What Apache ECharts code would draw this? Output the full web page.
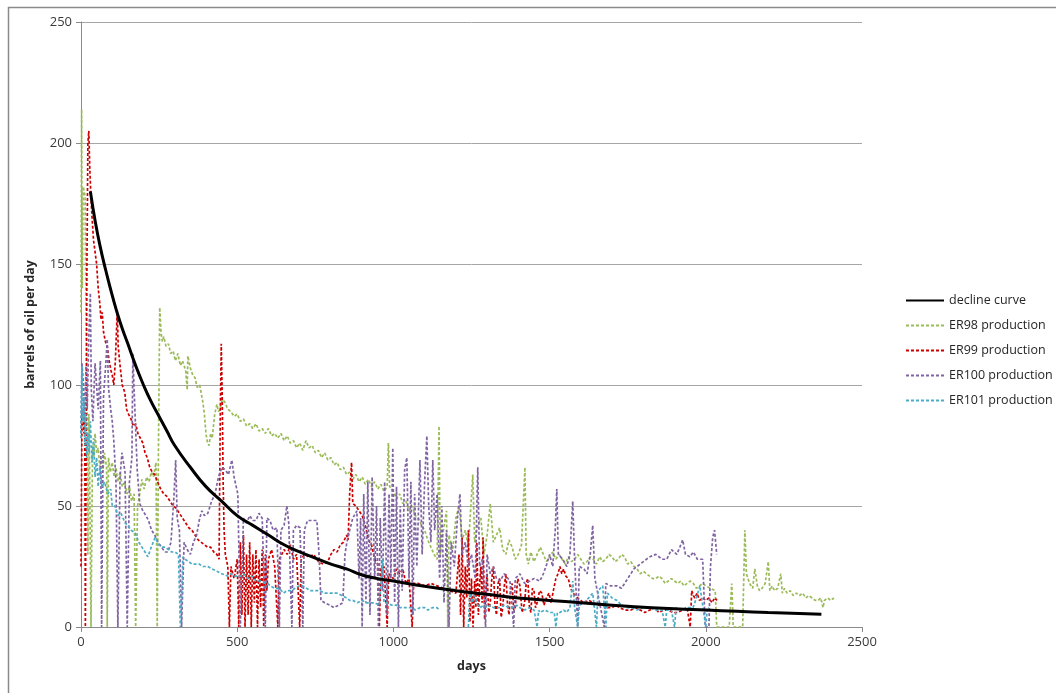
<!DOCTYPE html>
<html>
<head>
<meta charset="utf-8">
<script src="https://cdn.jsdelivr.net/npm/echarts@6/dist/echarts.min.js"></script>
<style>
html,body{margin:0;padding:0;background:#fff;}
#chart{width:1056px;height:693px;}
</style>
</head>
<body>
<div id="chart"></div>
<script>
// ---- data (days, barrels of oil per day) ----
const xTicks = [0, 500, 1000, 1500, 2000, 2500];
const yTicks = [0, 50, 100, 150, 200, 250];
const seriesNames = ['decline curve', 'ER98 production', 'ER99 production', 'ER100 production', 'ER101 production'];

const declineCurve = [[30,180],[45,168],[60,158],[80,147],[100,137],[125,126],[150,117],[175,108],[200,100],[225,93],[250,87],[275,81],[300,75],[350,66],[400,58],[450,52],[500,46],[550,42],[600,38],[650,34],[700,31],[750,28.5],[800,26],[850,24],[900,21.5],[950,20],[1000,19],[1100,16.8],[1200,15],[1300,13.5],[1400,12],[1500,11],[1600,10],[1700,9],[1800,8.2],[1900,7.5],[2000,7],[2100,6.5],[2200,6],[2300,5.6],[2370,5.3]];

const er98 = [[0,130],[2,214],[4,140],[7,182],[13,178],[16,130],[19,95],[22,30],[25,88],[28,60],[32,0],[35,0],[37,75],[41,70],[45,80],[50,72],[55,74],[60,66],[65,70],[70,64],[75,72],[82,66],[84,0],[86,0],[88,70],[94,64],[100,68],[106,62],[112,66],[118,60],[125,64],[132,58],[140,60],[147,55],[155,58],[162,52],[170,55],[175,0],[178,0],[181,50],[188,55],[195,61],[202,57],[210,62],[218,60],[225,64],[232,62],[240,68],[244,0],[246,0],[248,75],[252,132],[256,122],[260,118],[265,120],[272,116],[280,117],[287,113],[295,114],[302,110],[310,113],[318,108],[325,110],[335,106],[340,98],[342,112],[350,107],[358,104],[365,103],[372,99],[380,100],[390,93],[395,88],[400,80],[405,76],[410,75],[415,80],[420,78],[428,88],[435,92],[440,89],[445,90],[452,94],[460,93],[470,90],[480,89],[490,87],[500,88],[510,85],[520,86],[530,83],[540,84],[550,82],[560,84],[570,81],[580,82],[590,80],[600,82],[610,79],[620,80],[630,78],[640,80],[650,77],[660,79],[670,76],[680,77],[690,74],[700,76],[710,73],[720,77],[730,74],[740,75],[750,72],[760,73],[770,70],[780,72],[790,69],[800,70],[810,67],[820,68],[830,65],[840,66],[850,63],[860,64],[870,61],[880,63],[890,60],[900,62],[910,59],[920,61],[930,58],[940,60],[950,57],[960,59],[970,56],[980,58],[984,76],[988,58],[1000,56],[1010,53],[1020,55],[1030,51],[1040,52],[1050,48],[1060,50],[1070,46],[1080,45],[1090,42],[1100,40],[1110,36],[1120,33],[1130,30],[1140,28],[1146,83],[1150,30],[1160,40],[1170,48],[1174,0],[1178,38],[1190,32],[1200,45],[1210,50],[1220,36],[1230,40],[1240,33],[1254,63],[1260,35],[1270,42],[1280,45],[1290,30],[1300,38],[1310,51],[1320,35],[1330,38],[1340,41],[1350,32],[1360,30],[1370,36],[1380,33],[1390,28],[1400,30],[1410,34],[1421,66],[1425,30],[1432,26],[1440,31],[1450,27],[1460,30],[1470,33],[1480,30],[1490,27],[1500,29],[1510,31],[1520,28],[1530,30],[1540,28],[1550,26],[1560,29],[1570,27],[1580,28],[1590,30],[1600,28],[1610,26],[1620,27],[1630,29],[1640,28],[1650,26],[1660,29],[1670,27],[1680,28],[1690,30],[1700,29],[1710,27],[1720,28],[1730,30],[1740,29],[1750,26],[1760,27],[1770,25],[1780,24],[1790,22],[1800,23],[1810,22],[1820,21],[1830,20],[1840,20],[1850,21],[1860,20],[1870,18],[1880,19],[1890,20],[1900,19],[1910,18],[1920,19],[1930,17],[1940,18],[1950,19],[1960,18],[1970,16],[1980,17],[1990,18],[2000,17],[2015,16],[2030,15],[2035,0],[2075,0],[2083,18],[2088,0],[2118,0],[2125,40],[2130,22],[2140,18],[2150,16],[2157,24],[2165,17],[2172,15],[2180,16],[2190,18],[2200,27],[2205,15],[2212,17],[2220,15],[2230,16],[2240,22],[2245,14],[2252,16],[2260,14],[2270,15],[2280,13],[2290,14],[2300,13],[2310,14],[2320,12],[2330,13],[2340,12],[2350,11],[2360,11],[2368,12],[2375,8],[2380,11],[2390,12],[2400,11],[2410,12]];

const er99 = [[0,25],[3,85],[6,90],[9,80],[12,88],[14,0],[17,0],[19,150],[22,200],[25,205],[28,190],[31,180],[35,170],[40,160],[45,155],[50,150],[55,140],[60,134],[64,127],[68,130],[72,122],[78,118],[84,116],[90,110],[96,106],[100,104],[105,100],[110,110],[116,131],[119,116],[125,108],[132,100],[140,97],[146,90],[152,88],[160,86],[168,83],[175,84],[182,80],[190,78],[198,76],[205,72],[212,70],[220,66],[228,64],[236,63],[245,60],[255,57],[265,55],[275,54],[285,52],[295,50],[305,49],[315,47],[325,45],[335,43],[345,41],[355,40],[365,38],[375,36],[385,35],[395,34],[405,33],[415,33],[425,31],[435,30],[442,28],[446,90],[449,117],[452,95],[455,60],[458,40],[462,30],[470,25],[475,0],[480,25],[490,20],[500,28],[505,0],[510,35],[515,5],[520,38],[525,0],[530,30],[535,5],[540,35],[545,0],[550,30],[555,10],[560,32],[565,0],[570,28],[575,8],[580,32],[585,0],[590,30],[595,15],[600,28],[610,32],[620,25],[630,0],[635,28],[650,32],[660,30],[670,34],[680,28],[690,30],[700,0],[705,28],[715,30],[730,29],[745,30],[760,27],[775,26],[790,27],[800,30],[810,32],[820,31],[830,34],[840,35],[850,38],[855,36],[860,55],[866,68],[870,51],[880,50],[890,48],[900,46],[910,42],[920,36],[930,34],[940,28],[950,26],[955,0],[960,24],[970,25],[980,0],[985,22],[1000,20],[1010,24],[1020,22],[1030,24],[1040,18],[1050,20],[1060,0],[1065,18],[1080,18],[1100,17],[1120,18],[1140,17],[1160,16],[1180,15],[1200,14],[1205,22],[1210,30],[1215,5],[1220,37],[1225,0],[1230,25],[1235,12],[1240,40],[1245,2],[1250,20],[1255,0],[1260,19],[1264,8],[1267,35],[1272,5],[1276,18],[1280,25],[1284,10],[1287,37],[1292,3],[1296,15],[1300,22],[1305,6],[1310,10],[1315,20],[1320,25],[1325,9],[1330,5],[1335,18],[1340,20],[1345,4],[1350,8],[1355,17],[1360,22],[1365,10],[1370,5],[1375,16],[1380,18],[1385,7],[1390,8],[1398,20],[1405,17],[1412,6],[1420,10],[1425,18],[1430,20],[1435,9],[1440,6],[1445,16],[1450,15],[1455,8],[1460,10],[1468,15],[1475,14],[1482,9],[1490,12],[1498,14],[1505,10],[1512,15],[1520,20],[1527,22],[1533,25],[1539,22],[1545,24],[1552,21],[1560,20],[1567,16],[1575,14],[1582,13],[1590,12],[1600,11],[1610,10],[1625,11],[1640,10],[1655,9],[1670,9],[1685,8],[1700,8],[1712,9],[1725,8],[1740,7],[1760,7],[1775,8],[1790,7],[1805,6],[1821,7],[1835,8],[1850,6],[1865,7],[1880,7],[1895,6],[1910,6],[1925,7],[1940,8],[1950,0],[1955,15],[1960,13],[1965,12],[1972,14],[1980,11],[1990,12],[2000,11],[2010,12],[2020,10],[2028,12],[2036,11]];

const er100 = [[0,80],[3,109],[8,100],[12,85],[16,108],[20,90],[25,120],[30,138],[33,98],[38,85],[45,109],[55,90],[62,110],[66,0],[69,0],[72,95],[80,110],[84,119],[88,99],[95,90],[100,85],[105,77],[112,60],[118,0],[121,0],[125,62],[131,72],[141,64],[148,0],[151,0],[155,60],[163,70],[166,113],[170,98],[180,65],[188,51],[198,48],[208,46],[216,44],[226,40],[236,38],[246,35],[258,33],[268,31],[278,31],[288,35],[298,55],[303,69],[308,45],[315,40],[322,0],[326,0],[330,35],[340,32],[350,30],[360,35],[370,38],[380,45],[387,48],[395,46],[406,47],[418,52],[429,55],[440,62],[451,66],[462,65],[472,63],[483,69],[490,62],[502,55],[510,0],[515,0],[520,45],[530,43],[540,46],[550,44],[560,44],[570,47],[580,45],[590,0],[595,45],[605,44],[615,40],[627,41],[635,0],[640,40],[650,42],[659,50],[665,43],[675,0],[680,40],[690,42],[701,41],[710,0],[715,40],[725,44],[740,44],[755,44],[762,30],[768,11],[780,10],[797,9],[810,8],[825,9],[838,10],[845,30],[851,35],[860,40],[870,45],[883,48],[890,20],[895,45],[900,0],[905,55],[912,10],[918,60],[925,5],[932,62],[940,20],[946,50],[952,0],[958,45],[965,15],[972,60],[980,5],[986,55],[992,20],[998,74],[1004,10],[1010,58],[1016,0],[1022,50],[1028,15],[1036,65],[1043,70],[1050,20],[1056,60],[1062,5],[1068,55],[1075,25],[1085,69],[1092,30],[1100,60],[1107,79],[1113,50],[1120,35],[1126,69],[1132,40],[1140,55],[1148,20],[1155,50],[1162,10],[1170,40],[1178,0],[1185,35],[1195,25],[1205,45],[1213,55],[1220,30],[1230,35],[1240,25],[1250,30],[1262,20],[1270,66],[1276,25],[1285,28],[1295,0],[1300,30],[1310,22],[1320,25],[1330,20],[1341,19],[1355,22],[1373,19],[1385,0],[1390,20],[1405,22],[1420,18],[1437,19],[1450,20],[1469,19],[1480,22],[1491,26],[1500,30],[1510,25],[1518,40],[1523,57],[1528,30],[1542,28],[1555,25],[1565,30],[1574,52],[1580,28],[1590,0],[1595,25],[1610,24],[1620,22],[1630,30],[1638,42],[1645,20],[1660,10],[1675,0],[1680,18],[1695,17],[1715,17],[1730,16],[1750,20],[1770,24],[1790,26],[1810,28],[1821,29],[1840,30],[1860,28],[1875,28],[1890,32],[1907,30],[1917,33],[1926,36],[1935,30],[1949,29],[1960,31],[1973,28],[1990,28],[1998,0],[2010,0],[2015,25],[2022,37],[2028,40],[2035,30]];

const er101 = [[0,78],[3,108],[6,85],[9,95],[12,75],[15,88],[18,70],[22,80],[26,72],[30,85],[35,68],[40,78],[45,62],[50,70],[55,58],[60,66],[67,58],[75,60],[86,55],[95,57],[100,50],[109,50],[118,46],[128,47],[141,43],[150,42],[160,40],[173,39],[185,35],[195,33],[205,31],[214,29],[225,33],[237,37],[250,34],[260,33],[269,33],[280,32],[290,31],[301,31],[312,30],[318,0],[322,10],[326,29],[333,28],[345,27],[355,26],[365,26],[378,26],[390,25],[406,25],[420,24],[435,23],[451,22],[470,21],[480,22],[493,21],[510,21],[520,22],[535,20],[547,21],[560,19],[575,19],[590,18],[598,18],[605,17],[620,16],[635,16],[648,14],[659,15],[672,15],[685,16],[698,17],[710,17],[722,16],[735,15],[750,15],[765,15],[780,14],[795,14],[808,14],[819,14],[835,13],[850,12],[860,11],[870,11],[885,10],[900,11],[912,10],[925,10],[940,10],[955,9],[966,28],[970,10],[979,10],[995,9],[1010,9],[1020,8],[1031,8],[1045,8],[1060,8],[1070,7],[1085,8],[1100,8],[1110,7],[1125,8],[1139,8],[1149,7],[1200,null],[1240,0],[1245,15],[1252,10],[1260,13],[1270,9],[1277,8],[1290,9],[1300,8],[1310,9],[1320,8],[1330,8],[1341,8],[1355,9],[1370,8],[1385,8],[1395,9],[1405,8],[1420,7],[1435,8],[1450,7],[1460,0],[1465,7],[1469,6],[1485,7],[1500,6],[1515,6],[1520,0],[1525,6],[1533,6],[1545,7],[1555,6],[1565,8],[1574,19],[1580,8],[1590,0],[1595,9],[1610,10],[1625,12],[1638,14],[1650,0],[1655,15],[1670,17],[1680,0],[1685,14],[1700,12],[1715,11],[1730,9],[1747,8],[1760,8],[1780,7],[1800,8],[1821,8],[1840,7],[1860,7],[1870,0],[1875,7],[1890,7],[1900,0],[1905,8],[1920,7],[1940,8],[1959,8],[1970,12],[1981,17],[1990,9],[2000,0],[2005,8],[2010,8]];

const colors = ['#000000', '#9BBB59', '#CC0000', '#8064A2', '#4BACC6'];
const FONT = 'Open Sans';

const chart = echarts.init(document.getElementById('chart'), null, {renderer: 'canvas'});

function prodSeries(name, data, color, z) {
  return {
    name: name, type: 'line', data: data, showSymbol: false, symbol: 'none',
    connectNulls: false, z: z, animation: false,
    lineStyle: {color: color, width: 1.7, type: [3, 2]},
    itemStyle: {color: color}
  };
}

chart.setOption({
  animation: false,
  backgroundColor: '#ffffff',
  graphic: [{
    type: 'rect', left: 6, top: 5, silent: true,
    shape: {width: 1060, height: 700},
    style: {fill: 'none', stroke: '#8a8a8a', lineWidth: 1.5}
  }],
  grid: {left: 81, right: 194, top: 22, bottom: 66, containLabel: false},
  legend: {
    orient: 'vertical', left: 900, top: 289,
    itemWidth: 38, itemHeight: 14, itemGap: 12,
    itemStyle: {opacity: 0},
    textStyle: {fontFamily: FONT, fontSize: 12.5, color: '#262626'},
    data: seriesNames
  },
  xAxis: {
    type: 'value', min: 0, max: 2500, interval: 500,
    name: 'days', nameLocation: 'middle', nameGap: 33,
    nameTextStyle: {fontFamily: FONT, fontSize: 12.5, fontWeight: 'bold', color: '#262626'},
    axisLine: {show: true, lineStyle: {color: '#8a8a8a', width: 1}},
    axisTick: {show: true, inside: false, length: 5, lineStyle: {color: '#8a8a8a'}},
    axisLabel: {fontFamily: FONT, fontSize: 13, color: '#3a3a3a', margin: 9,
      formatter: v => xTicks.includes(v) ? String(v) : ''},
    splitLine: {show: false}
  },
  yAxis: {
    type: 'value', min: 0, max: 250, interval: 50,
    name: 'barrels of oil per day', nameLocation: 'middle', nameGap: 44, nameRotate: 90,
    nameTextStyle: {fontFamily: FONT, fontSize: 12.5, fontWeight: 'bold', color: '#262626'},
    axisLine: {show: true, lineStyle: {color: '#8a8a8a', width: 1}},
    axisTick: {show: true, inside: false, length: 5, lineStyle: {color: '#8a8a8a'}},
    axisLabel: {fontFamily: FONT, fontSize: 13, color: '#3a3a3a', margin: 9,
      formatter: v => yTicks.includes(v) ? String(v) : ''},
    splitLine: {show: true, lineStyle: {color: '#a6a6a6', width: 1}}
  },
  series: [
    {
      name: seriesNames[0], type: 'line', data: declineCurve, showSymbol: false, symbol: 'none',
      smooth: true, z: 10, lineStyle: {color: colors[0], width: 3, type: 'solid'}, itemStyle: {color: colors[0]}
    },
    prodSeries(seriesNames[1], er98, colors[1], 3),
    prodSeries(seriesNames[2], er99, colors[2], 4),
    prodSeries(seriesNames[3], er100, colors[3], 5),
    prodSeries(seriesNames[4], er101, colors[4], 6)
  ]
});
</script>
</body>
</html>
